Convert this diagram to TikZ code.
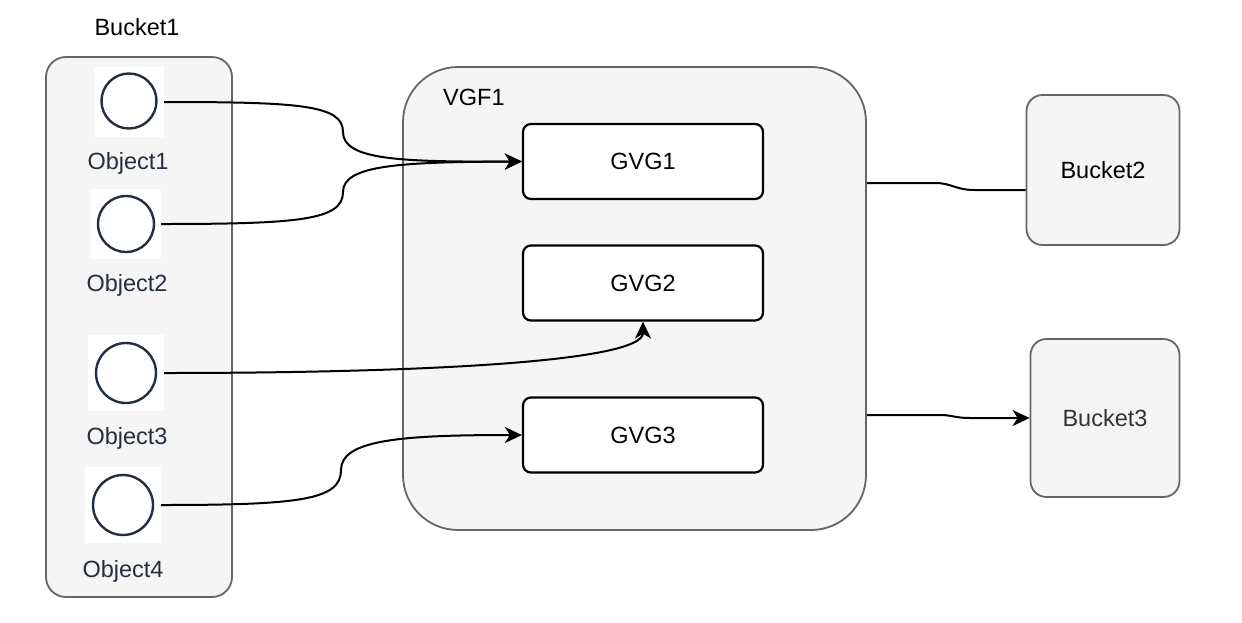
\documentclass[tikz,border=0pt]{standalone}
\usepackage{fontspec}
\setmainfont{Liberation Sans}
\usetikzlibrary{arrows.meta}
\definecolor{contfill}{HTML}{F5F5F5}
\definecolor{contline}{HTML}{666666}
\definecolor{awsdark}{HTML}{232F3E}
\definecolor{txtgrey}{HTML}{333333}
\tikzset{
  bigfont/.style={font=\fontsize{23.5}{28}\selectfont},
  container/.style={draw=contline, fill=contfill, line width=1.8pt},
  gvgbox/.style={draw=black, fill=white, line width=2.2pt, rounded corners=8pt, minimum width=240pt, minimum height=75pt, bigfont},
  iconbg/.style={fill=white, draw=none, inner sep=0pt},
  objcirc/.style={circle, draw=awsdark, line width=2.4pt, inner sep=0pt},
  objlabel/.style={text=awsdark, bigfont, inner sep=0pt},
  plainlabel/.style={bigfont, inner sep=0pt},
  conn/.style={draw=black, line width=2pt},
  arrowconn/.style={conn, -{Stealth[length=17pt,width=16pt,inset=5pt]}},
}
\begin{document}
\begin{tikzpicture}[x=1pt,y=-1pt]
\useasboundingbox (0,0) rectangle (1242,622);
\fill[white] (0,0) rectangle (1242,622);
% containers
\node[container, rounded corners=20pt, minimum width=186pt, minimum height=540pt] (bucket1) at (139,327) {};
\node[container, rounded corners=55pt, minimum width=463pt, minimum height=463pt] (vgf) at (634.5,298.5) {};
\node[plainlabel] (bucket1lbl) at (137,27) {Bucket1};
\node[plainlabel, anchor=west] (vgflbl) at (443,97) {VGF1};
% object icons
\node[iconbg, minimum width=70pt, minimum height=70pt] (o1bg) at (129,102) {};
\node[objcirc, minimum size=55pt] (o1c) at (129,101) {};
\node[iconbg, minimum width=70pt, minimum height=70pt] (o2bg) at (126,224) {};
\node[objcirc, minimum size=56pt] (o2c) at (126,224) {};
\node[iconbg, minimum width=76pt, minimum height=76pt] (o3bg) at (126,373) {};
\node[objcirc, minimum size=60pt] (o3c) at (126,373) {};
\node[iconbg, minimum width=76pt, minimum height=76pt] (o4bg) at (123,505) {};
\node[objcirc, minimum size=60pt] (o4c) at (123,505) {};
\node[objlabel] (o1lbl) at (128,163) {Object1};
\node[objlabel] (o2lbl) at (127,285) {Object2};
\node[objlabel] (o3lbl) at (127,438) {Object3};
\node[objlabel] (o4lbl) at (123,571) {Object4};
% GVG boxes
\node[gvgbox] (g1) at (643,161.5) {GVG1};
\node[gvgbox] (g2) at (643,283) {GVG2};
\node[gvgbox] (g3) at (643,435) {GVG3};
% connectors
\draw[arrowconn] (o1bg.east) .. controls (300,102) and (343,105) .. (343,132) .. controls (343,160) and (400,162) .. (g1.west);
\draw[arrowconn] (o2bg.east) .. controls (300,224) and (343,220) .. (343,192) .. controls (343,165) and (400,162) .. (g1.west);
\draw[arrowconn] (o3bg.east) .. controls (420,373) and (643,362) .. (g2.south);
\draw[arrowconn] (o4bg.east) .. controls (300,505) and (341,500) .. (341,470) .. controls (341,440) and (400,435) .. (g3.west);
% right buckets
\coordinate (b2in) at (1027,190);
\draw[conn] ([yshift=115.5pt]vgf.east) -- (935,183) .. controls (952,183) and (955,190) .. (975,190) -- (b2in);
\node[container, rounded corners=16pt, minimum width=153pt, minimum height=150pt, bigfont] (b2) at (1103,170) {Bucket2};
\node[container, rounded corners=16pt, minimum width=149pt, minimum height=158pt, text=txtgrey, bigfont] (b3) at (1105,418) {Bucket3};
\draw[arrowconn] ([yshift=-116.5pt]vgf.east) -- (940,415) .. controls (952,415) and (955,418) .. (970,418) -- (b3.west);
\end{tikzpicture}
\end{document}
